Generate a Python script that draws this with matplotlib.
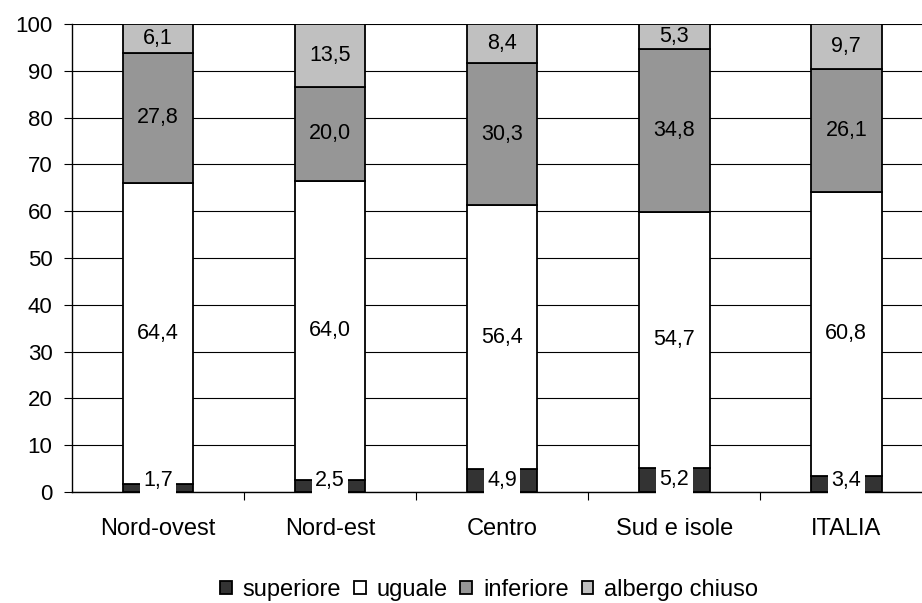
import matplotlib.pyplot as plt
import numpy as np

plt.rcParams['font.family'] = ['Liberation Sans', 'DejaVu Sans']

categories = ['Nord-ovest', 'Nord-est', 'Centro', 'Sud e isole', 'ITALIA']
superiore = [1.7, 2.5, 4.9, 5.2, 3.4]
uguale = [64.4, 64.0, 56.4, 54.7, 60.8]
inferiore = [27.8, 20.0, 30.3, 34.8, 26.1]
chiuso = [6.1, 13.5, 8.4, 5.3, 9.7]

series = [('superiore', superiore, '#333333'),
          ('uguale', uguale, '#ffffff'),
          ('inferiore', inferiore, '#969696'),
          ('albergo chiuso', chiuso, '#c0c0c0')]

fs = 15.5
fs_txt = 17

fig = plt.figure(figsize=(9.22, 6.03), dpi=100)
ax = fig.add_axes([72 / 922, (603 - 492) / 603, (922 - 72) / 922, 468 / 603])

x = np.arange(len(categories))
bottom = np.zeros(len(categories))
for name, vals, col in series:
    vals = np.array(vals)
    ax.bar(x, vals, 0.41, bottom=bottom, color=col, edgecolor='black',
           linewidth=1.3, label=name, zorder=3)
    for xi, b, v in zip(x, bottom, vals):
        txt = f'{v:.1f}'.replace('.', ',')
        kw = {}
        y = b + v / 2
        if name == 'superiore':
            kw['bbox'] = dict(facecolor='white', edgecolor='none', pad=2.5)
            y = max(y, 2.5)
        ax.text(xi, y, txt, ha='center', va='center', fontsize=fs,
                zorder=4, **kw)
    bottom += vals

ax.set_ylim(0, 100)
ax.set_xlim(-0.5, 4.44)
ax.set_yticks(range(0, 101, 10))
ax.yaxis.grid(True, color='black', linewidth=0.8, zorder=0)
ax.set_xticks(np.arange(0.5, 4.5, 1))
ax.set_xticklabels([])
ax.set_xticks(x, minor=True)
ax.set_xticklabels(categories, minor=True)
ax.tick_params(axis='x', which='minor', length=0, pad=19, labelsize=fs_txt)
ax.tick_params(axis='x', which='major', length=6, direction='out')
ax.tick_params(axis='y', length=6, direction='out', labelsize=16, pad=8)
for s in ['top', 'right']:
    ax.spines[s].set_visible(False)
ax.spines['left'].set_linewidth(1.0)
ax.spines['bottom'].set_linewidth(1.0)

fig.legend(loc='center', bbox_to_anchor=(489 / 922, 1 - 590 / 603), ncol=4,
           frameon=False, fontsize=fs_txt, handlelength=0.5, handleheight=0.5,
           handletextpad=0.45, columnspacing=0.55)

fig.savefig('out.png', dpi=100)
